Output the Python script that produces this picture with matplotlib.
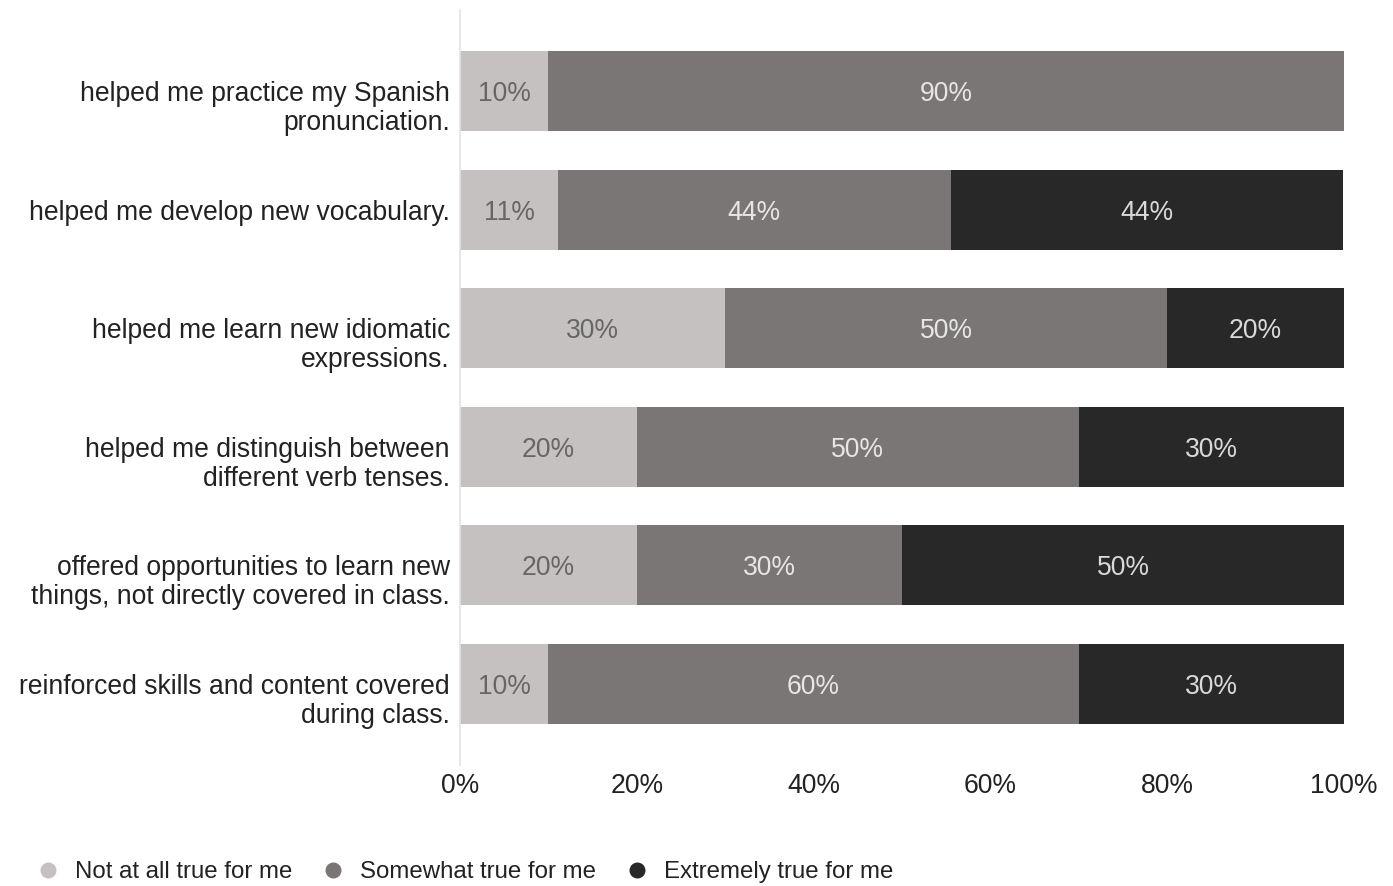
import numpy as np
import matplotlib
matplotlib.use("Agg")
from matplotlib import pyplot as plt
from matplotlib.lines import Line2D
from matplotlib.transforms import ScaledTranslation

plt.rcParams['font.family'] = ['Liberation Sans', 'DejaVu Sans']

categories = [
    "helped me practice my Spanish\npronunciation.",
    "helped me develop new vocabulary.",
    "helped me learn new idiomatic\nexpressions.",
    "helped me distinguish between\ndifferent verb tenses.",
    "offered opportunities to learn new\nthings, not directly covered in class.",
    "reinforced skills and content covered\nduring class.",
]
not_at_all = [10, 11.1, 30, 20, 20, 10]
somewhat = [90, 44.4, 50, 50, 30, 60]
extremely = [0, 44.4, 20, 30, 50, 30]
series_names = ["Not at all true for me", "Somewhat true for me", "Extremely true for me"]
x_ticks = [0, 20, 40, 60, 80, 100]

colors = ['#c6c1c1', '#7a7675', '#282828']
text_colors = ['#666666', '#e6e6e6', '#d9d9d9']
fs = 19.1

fig = plt.figure(figsize=(13.93, 8.86), dpi=100)
ax = fig.add_axes([0.3302, 0.1366, 0.9648 - 0.3302, 0.9887 - 0.1366])

y = np.arange(len(categories))
left = np.zeros(len(categories))
for vals, col, tcol in zip([not_at_all, somewhat, extremely], colors, text_colors):
    vals = np.array(vals, dtype=float)
    ax.barh(y, vals, left=left, height=0.675, color=col, edgecolor='none', zorder=2)
    for yi, l, v in zip(y, left, vals):
        if v > 0:
            ax.text(l + v / 2, yi, f"{round(v)}%", ha='center', va='center_baseline',
                    fontsize=fs, color=tcol, zorder=3)
    left += vals

ax.set_xlim(0, 100)
ax.set_ylim(len(categories) - 1 + 0.683, -0.683)
ax.set_yticks(y)
ax.set_yticklabels([])

# category labels: first line sits level with the bar centre, the rest run downward
line_step = 0.29  # inches between lines
for yi, cat in zip(y, categories):
    for k, line in enumerate(cat.split('\n')):
        tr = ax.get_yaxis_transform() + ScaledTranslation(-0.1, -k * line_step, fig.dpi_scale_trans)
        ax.text(0, yi, line, transform=tr, ha='right', va='center_baseline',
                fontsize=fs, color='#222222', clip_on=False)

ax.set_xticks(x_ticks)
ax.set_xticklabels([f"{t}%" for t in x_ticks], fontsize=fs, color='#222222')
ax.tick_params(axis='both', length=0)
ax.tick_params(axis='x', pad=6)
for s in ['top', 'right', 'bottom']:
    ax.spines[s].set_visible(False)
ax.spines['left'].set_color('#e3e3e3')
ax.spines['left'].set_linewidth(1.2)

handles = [Line2D([], [], marker='o', linestyle='none', markersize=10.5,
                  markerfacecolor=c, markeredgecolor=c) for c in colors]
fig.legend(handles, series_names, loc='center left', bbox_to_anchor=(0.0258, 0.0158),
           ncol=3, frameon=False, fontsize=17.3, handletextpad=0.62, handlelength=1.0,
           columnspacing=1.2, borderaxespad=0, borderpad=0, labelcolor='#222222')

fig.savefig("out.png", dpi=100)
